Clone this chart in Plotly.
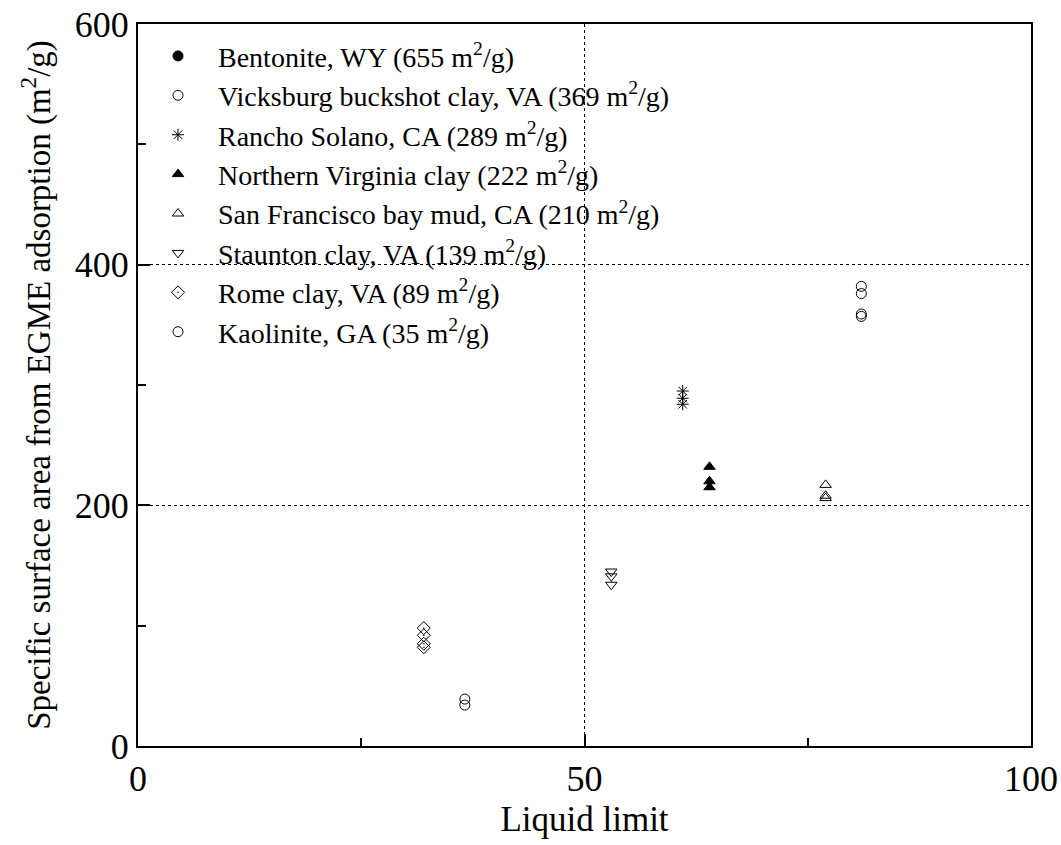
import plotly.graph_objects as go

names = [
    "Bentonite, WY (655 m<sup>2</sup>/g)",
    "Vicksburg buckshot clay, VA (369 m<sup>2</sup>/g)",
    "Rancho Solano, CA (289 m<sup>2</sup>/g)",
    "Northern Virginia clay (222 m<sup>2</sup>/g)",
    "San Francisco bay mud, CA (210 m<sup>2</sup>/g)",
    "Staunton clay, VA (139 m<sup>2</sup>/g)",
    "Rome clay, VA (89 m<sup>2</sup>/g)",
    "Kaolinite, GA (35 m<sup>2</sup>/g)",
]
symbols = ["circle", "circle-open", "asterisk-open", "triangle-up",
           "triangle-up-open", "triangle-down-open", "diamond-open-dot", "circle-open"]

bentonite_ll = [None]
bentonite_ssa = [None]
vicksburg_ll = [81, 81, 81, 81]
vicksburg_ssa = [382, 376, 359, 357]
rancho_ll = [61, 61, 61]
rancho_ssa = [295, 289, 284]
nova_ll = [64, 64, 64]
nova_ssa = [232, 220, 215]
sf_ll = [77, 77, 77]
sf_ssa = [217, 208, 206]
staunton_ll = [53, 53, 53]
staunton_ssa = [145, 141, 134]
rome_ll = [32, 32, 32, 32]
rome_ssa = [98, 92, 85, 82]
kaolinite_ll = [36.6, 36.6]
kaolinite_ssa = [39, 34]

xs = [bentonite_ll, vicksburg_ll, rancho_ll, nova_ll, sf_ll, staunton_ll, rome_ll, kaolinite_ll]
ys = [bentonite_ssa, vicksburg_ssa, rancho_ssa, nova_ssa, sf_ssa, staunton_ssa, rome_ssa, kaolinite_ssa]

font = "Liberation Serif, Times New Roman, serif"
fig = go.Figure()
for n, s, x, y in zip(names, symbols, xs, ys):
    fig.add_trace(go.Scatter(
        x=x, y=y, mode="markers", name=n,
        marker=dict(symbol=s, size=10, color="black", line=dict(color="black", width=1)),
    ))

axis_common = dict(
    showline=True, linewidth=2, linecolor="black", mirror=True,
    ticks="inside", ticklen=12, tickwidth=2, tickcolor="black",
    showgrid=True, gridcolor="black", gridwidth=1, griddash="dot",
    zeroline=False, automargin=False,
    tickfont=dict(family=font, size=36, color="black"),
    minor=dict(ticks="inside", ticklen=8, tickwidth=2, tickcolor="black", showgrid=False),
)

fig.update_xaxes(range=[0, 100], tickvals=[0, 50, 100], minor_dtick=25,
                 title=dict(text="Liquid limit", font=dict(family=font, size=35, color="black"), standoff=8),
                 **axis_common)
fig.update_yaxes(range=[0, 600], tickvals=[0, 200, 400, 600], minor_dtick=100,
                 title=dict(text="Specific surface area from EGME adsorption (m<sup>2</sup>/g)",
                            font=dict(family=font, size=33, color="black"), standoff=14),
                 **axis_common)

fig.update_layout(
    width=1061, height=845,
    margin=dict(l=138, r=30, t=24, b=99),
    plot_bgcolor="white", paper_bgcolor="white",
    showlegend=True,
    legend=dict(x=0.0, y=0.99, xanchor="left", yanchor="top",
                font=dict(family=font, size=28, color="black"),
                bgcolor="rgba(0,0,0,0)", borderwidth=0, tracegroupgap=0,
                itemsizing="trace", itemwidth=70),
)

fig.write_html("out.html")
